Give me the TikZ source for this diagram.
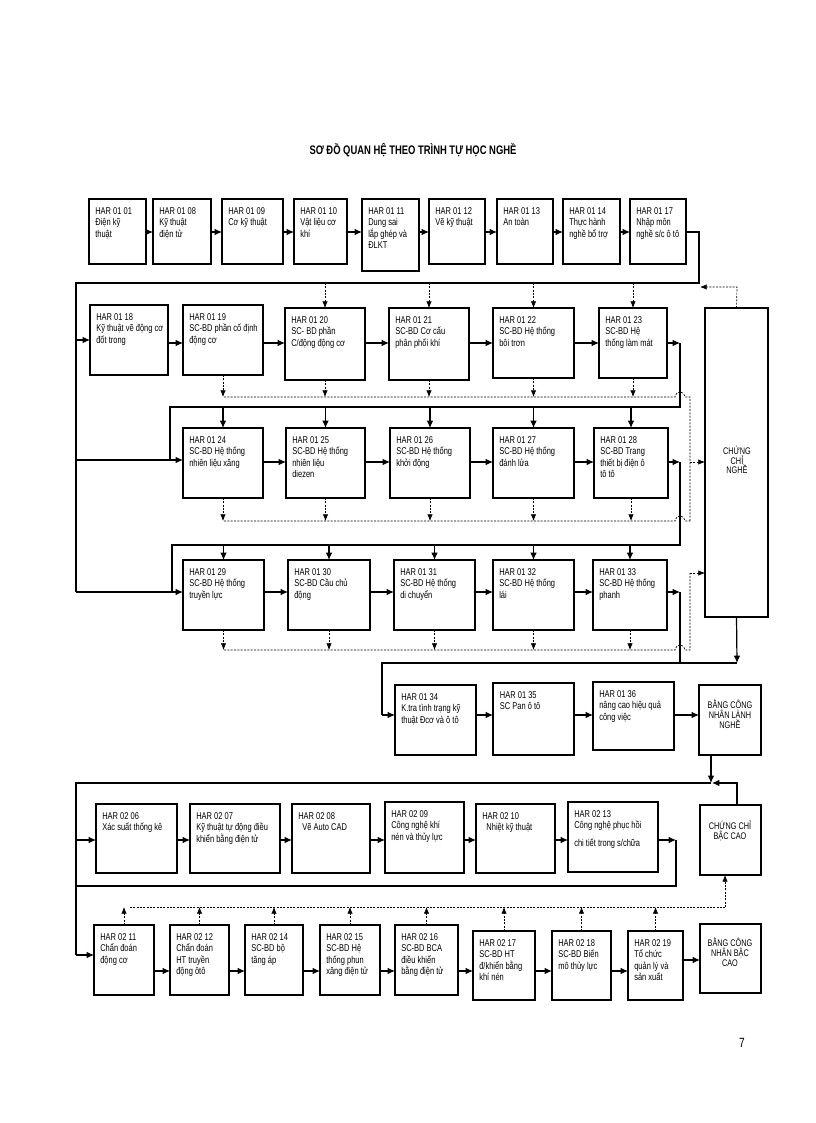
\documentclass[tikz,border=0pt]{standalone}
\usepackage{fontspec}
\setmainfont{Liberation Sans}[FakeStretch=0.76]
\usetikzlibrary{arrows.meta}
\begin{document}
\begin{tikzpicture}[x=0.75pt,y=-0.75pt,
  box/.style={draw,line width=0.8pt,inner sep=0,outer sep=0,anchor=north west},
  txt/.style={anchor=north west,align=left,inner sep=0,font=\fontsize{7.4}{8.6}\selectfont},
  ctxt/.style={anchor=north,align=center,inner sep=0,font=\fontsize{7.2}{7.2}\selectfont},
  ln/.style={line width=0.9pt},
  arr/.style={line width=0.9pt,-{Latex[length=5.5pt,width=5pt]}},
  dln/.style={line width=0.5pt,dash pattern=on 1.5pt off 1pt},
  darr/.style={line width=0.5pt,dash pattern=on 1.5pt off 1pt,-{Latex[length=5pt,width=4pt]}}]
\useasboundingbox (0,0) rectangle (816,1123);
\newcommand{\bx}[6]{%
  \node[box,minimum width={(#4-#2)*0.75pt},minimum height={(#5-#3)*0.75pt}] (#1) at (#2,#3) {};
  \node[txt] (#1t) at ([shift={(4.5pt,-6pt)}]#1.north west) {#6};}
\node[font=\bfseries\fontsize{9.3}{11}\selectfont] (title) at (413,150) {SƠ ĐỒ QUAN HỆ THEO TRÌNH TỰ HỌC NGHỀ};
\node[font=\fontsize{10}{12}\selectfont] (pg) at (742,1043) {7};
% row 1
\bx{a1}{89}{199}{146}{264}{HAR 01 01\\Điện kỹ\\thuật}
\bx{a2}{153}{199}{211}{264}{HAR 01 08\\Kỹ thuật\\điện tử}
\bx{a3}{222}{199}{283}{264}{HAR 01 09\\Cơ kỹ thuật}
\bx{a4}{294}{199}{347}{264}{HAR 01 10\\Vật liệu cơ\\khí}
\bx{a5}{362}{199}{419}{271}{HAR 01 11\\Dung sai\\lắp ghép và\\ĐLKT}
\bx{a6}{429}{199}{485}{264}{HAR 01 12\\Vẽ kỹ thuật}
\bx{a7}{497}{199}{553}{264}{HAR 01 13\\An toàn}
\bx{a8}{563}{199}{620}{264}{HAR 01 14\\Thực hành\\nghề bổ trợ}
\bx{a9}{630}{199}{686}{264}{HAR 01 17\\Nhập môn\\nghề s/c ô tô}
\foreach \p/\q in {a1/a2,a2/a3,a3/a4,a4/a5,a5/a6,a6/a7,a7/a8,a8/a9}
  \draw[arr] (\p.east |- 0,232) -- (\q.west |- 0,232);
% row 2
\bx{b18}{90}{305}{168}{375}{HAR 01 18\\Kỹ thuật vẽ động cơ\\đốt trong}
\bx{b19}{183}{305}{263}{375}{HAR 01 19\\SC-BD phần cố định\\động cơ}
\bx{b20}{285}{308}{365}{380}{HAR 01 20\\SC- BD phần\\C/động động cơ}
\bx{b21}{389}{308}{469}{380}{HAR 01 21\\SC-BD Cơ cấu\\phân phối khí}
\bx{b22}{493}{308}{574}{378}{HAR 01 22\\SC-BD Hệ thống\\bôi trơn}
\bx{b23}{599}{308}{667}{378}{HAR 01 23\\SC-BD Hệ\\thống làm mát}
% row 3
\bx{c24}{183}{428}{263}{498}{HAR 01 24\\SC-BD Hệ thống\\nhiên liệu xăng}
\bx{c25}{286}{428}{365}{498}{HAR 01 25\\SC-BD Hệ thống\\nhiên liệu\\diezen}
\bx{c26}{390}{428}{470}{498}{HAR 01 26\\SC-BD Hệ thống\\khởi động}
\bx{c27}{493}{428}{574}{498}{HAR 01 27\\SC-BD Hệ thống\\đánh lửa}
\bx{c28}{594}{428}{668}{498}{HAR 01 28\\SC-BD Trang\\thiết bị điện ô\\tô tô}
% row 4
\bx{d29}{183}{560}{264}{630}{HAR 01 29\\SC-BD Hệ thống\\truyền lực}
\bx{d30}{288}{560}{370}{630}{HAR 01 30\\SC-BD Cầu chủ\\động}
\bx{d31}{394}{560}{475}{630}{HAR 01 31\\SC-BD Hệ thống\\di chuyển}
\bx{d32}{493}{560}{574}{630}{HAR 01 32\\SC-BD Hệ thống\\lái}
\bx{d33}{593}{560}{667}{630}{HAR 01 33\\SC-BD Hệ thống\\phanh}
% chung chi nghe
\node[box,minimum width={63*0.75pt},minimum height={309*0.75pt}] (ccn) at (705,308) {};
\node[ctxt] (ccnt) at (737,446) {CHỨNG\\CHỈ\\NGHỀ};
% row arrows
\foreach \p/\q in {b18/b19,b19/b20,b20/b21,b21/b22,b22/b23}
  \draw[arr] (\p.east |- 0,343) -- (\q.west |- 0,343);
\foreach \p/\q in {c24/c25,c25/c26,c26/c27,c27/c28}
  \draw[arr] (\p.east |- 0,462) -- (\q.west |- 0,462);
\foreach \p/\q in {d29/d30,d30/d31,d31/d32,d32/d33}
  \draw[arr] (\p.east |- 0,592) -- (\q.west |- 0,592);
% main solid feed
\draw[ln] (a9.east |- 0,232) -| (699,283) -- (76,283) -- (76,592);
\draw[arr] (76,340) -- (b18.west |- 0,340);
\draw[arr] (76,460) -- (c24.west |- 0,460);
\draw[arr] (76,592) -- (d29.west |- 0,592);
\draw[arr] (b23.east |- 0,343) -- (680,343);
\draw[ln] (680,343) -- (680,407) -- (170,407) -- (170,460);
\draw[arr] (c28.east |- 0,462) -- (680,462);
\draw[ln] (680,462) -- (680,545) -- (172,545) -- (172,592);
\draw[arr] (d33.east |- 0,592) -- (680,592);
\draw[ln] (680,592) -- (680,663);
\foreach \b in {c24,c25,c26,c27,c28} \draw[arr] (\b.north |- 0,407) -- (\b.north);
\foreach \b in {d29,d30,d31,d32,d33} \draw[arr] (\b.north |- 0,545) -- (\b.north);
% dashed
\foreach \b in {b20,b21,b22,b23} \draw[darr] (\b.north |- 0,283) -- (\b.north);
\draw[darr] (ccn.north) -- (737,287) -- (700,287);
\foreach \b in {b19,b20,b21,b22,b23} \draw[darr] (\b.south) -- (\b.south |- 0,397);
\foreach \b in {c24,c25,c26,c27,c28} \draw[darr] (\b.south) -- (\b.south |- 0,521);
\foreach \b in {d29,d30,d31,d32,d33} \draw[darr] (\b.south) -- (\b.south |- 0,650);
\draw[dln] (224,397) -- (675,397) .. controls (677,390) and (683,390) .. (685,397) -- (690,397) -- (690,521);
\draw[dln] (224,521) -- (675,521) .. controls (677,514) and (683,514) .. (685,521) -- (690,521);
\draw[darr] (690,462) -- (ccn.west |- 0,462);
\draw[dln] (224,650) -- (675,650) .. controls (677,643) and (683,643) .. (685,650) -- (690,650) -- (690,573);
\draw[darr] (690,573) -- (ccn.west |- 0,573);
% row 5
\bx{e34}{395}{685}{476}{755}{HAR 01 34\\K.tra tình trạng kỹ\\thuật Đcơ và ô tô}
\node[draw,line width=2.2pt,inner sep=0,outer sep=0,anchor=north west,minimum width={81*0.75pt},minimum height={72*0.75pt}] (e35) at (493,683) {};
\node[txt] (e35t) at ([shift={(5pt,-6pt)}]e35.north west) {HAR 01 35\\SC Pan ô tô};
\bx{e36}{593}{682}{674}{750}{HAR 01 36\\nâng cao hiệu quả\\công việc}
\node[box,minimum width={62*0.75pt},minimum height={70*0.75pt}] (bl) at (699,685) {};
\node[ctxt] (blt) at (730,700) {BẰNG CÔNG\\NHÂN LÀNH\\NGHỀ};
\draw[arr] (ccn.south) -- (737,663);
\draw[ln] (737,663) -- (382,663) -- (382,715);
\draw[arr] (382,715) -- (e34.west |- 0,715);
\draw[arr] (e34.east |- 0,715) -- (e35.west |- 0,715);
\draw[arr] (e35.east |- 0,715) -- (e36.west |- 0,715);
\draw[arr] (e36.east |- 0,715) -- (bl.west |- 0,715);
% row 6
\bx{f06}{96}{804}{177}{873}{HAR 02 06\\Xác suất thống kê}
\bx{f07}{190}{804}{280}{873}{HAR 02 07\\Kỹ thuật tự động điều\\khiển bằng điện tử}
\bx{f08}{292}{804}{370}{873}{HAR 02 08\\\ \ Vẽ Auto CAD}
\bx{f09}{385}{802}{464}{873}{HAR 02 09\\Công nghệ khí\\nén và thủy lực}
\bx{f10}{476}{804}{555}{873}{HAR 02 10\\\ \ Nhiệt kỹ thuật}
\bx{f13}{568}{802}{658}{872}{HAR 02 13\\Công nghệ phục hồi\\[5pt]chi tiết trong s/chữa}
\node[box,minimum width={61*0.75pt},minimum height={70*0.75pt}] (ccb) at (700,805) {};
\node[ctxt] (ccbt) at (730,821) {CHỨNG CHỈ\\BẬC CAO};
\draw[arr] (bl.south -| 711,0) -- (711,783);
\draw[arr] (ccb.north -| 737,0) -- (737,783) -- (712,783);
\draw[ln] (711,783) -- (76,783) -- (76,955);
\draw[arr] (76,840) -- (f06.west |- 0,840);
\foreach \p/\q in {f06/f07,f07/f08,f08/f09,f09/f10,f10/f13}
  \draw[arr] (\p.east |- 0,840) -- (\q.west |- 0,840);
\draw[arr] (f13.east |- 0,840) -- (676,840);
\draw[ln] (676,840) -- (676,886) -- (76,886);
% row 7
\bx{g11}{94}{925}{154}{995}{HAR 02 11\\Chẩn đoán\\động cơ}
\bx{g12}{170}{925}{229}{995}{HAR 02 12\\Chẩn đoán\\HT truyền\\động ôtô}
\bx{g14}{245}{925}{303}{995}{HAR 02 14\\SC-BD bộ\\tăng áp}
\bx{g15}{320}{925}{380}{995}{HAR 02 15\\SC-BD Hệ\\thống phun\\xăng điện tử}
\bx{g16}{395}{925}{458}{995}{HAR 02 16\\SC-BD BCA\\điều khiển\\bằng điện tử}
\bx{g17}{473}{931}{535}{1000}{HAR 02 17\\SC-BD HT\\đ/khiển bằng\\khí nén}
\bx{g18}{552}{931}{611}{1000}{HAR 02 18\\SC-BD Biến\\mô thủy lực}
\bx{g19}{628}{931}{683}{1000}{HAR 02 19\\Tổ chức\\quản lý và\\sản xuất}
\node[box,minimum width={61*0.75pt},minimum height={69*0.75pt}] (bb) at (700,924) {};
\node[ctxt] (bbt) at (730,938) {BẰNG CÔNG\\NHÂN BẬC\\CAO};
\draw[arr] (76,955) -- (g11.west |- 0,955);
\foreach \p/\q in {g11/g12,g12/g14,g14/g15,g15/g16,g16/g17,g17/g18,g18/g19}
  \draw[arr] (\p.east |- 0,971) -- (\q.west |- 0,971);
\draw[arr] (g19.east |- 0,960) -- (bb.west |- 0,960);
\foreach \b in {g11,g12,g14,g15,g16,g17,g18,g19} \draw[darr] (\b.north) -- (\b.north |- 0,907);
\draw[dln] (130,907) -- (725,907);
\draw[darr] (725,907) -- (ccb.south -| 725,0);
\end{tikzpicture}
\end{document}
